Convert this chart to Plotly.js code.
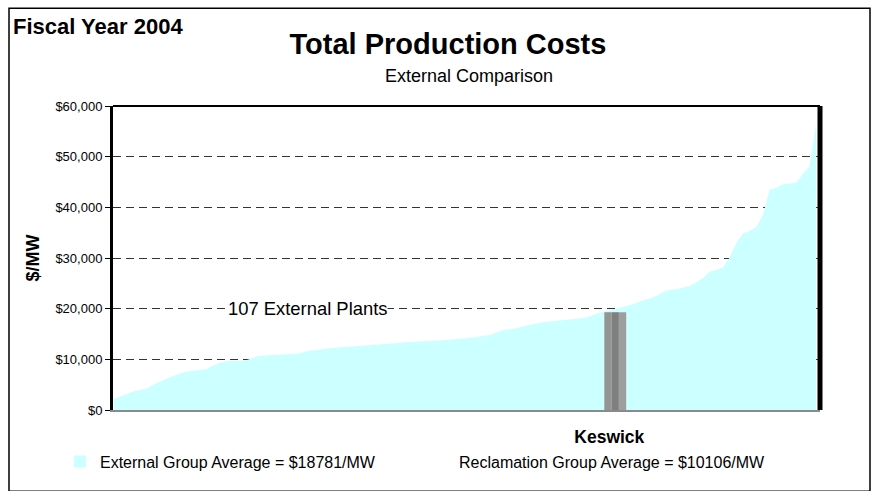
<!DOCTYPE html>
<html>
<head>
<meta charset="utf-8">
<script src="https://cdn.plot.ly/plotly-3.0.1.min.js"></script>
<style>
  html, body { margin: 0; padding: 0; background: #fff; }
  #chart { width: 873px; height: 491px; }
</style>
</head>
<body>
<div id="chart"></div>
<script>
// External plants, sorted production cost ($/MW), FY2004
const externalCosts = [
  2100, 2700, 3160, 3630, 3960, 4240, 5020, 5620, 6100, 6710,
  7200, 7560, 7750, 7910, 8060, 8730, 9340, 9610, 9680, 9750,
  9820, 10280, 10690, 10740, 10800, 10850, 10910, 10960, 11150, 11540,
  11750, 11970, 12100, 12230, 12330, 12420, 12480, 12510, 12610, 12770,
  12880, 12990, 13100, 13230, 13350, 13460, 13510, 13570, 13630, 13700,
  13760, 13840, 13930, 14100, 14270, 14440, 14640, 14870, 15400, 15850,
  15950, 16270, 16590, 16880, 17130, 17380, 17500, 17620, 17730, 17840,
  18000, 18160, 18540, 19100, 19400, 19700, 20000, 20300, 20700, 21150,
  21670, 22020, 22560, 23340, 23680, 23810, 24120, 24530, 25220, 26090,
  27320, 27650, 28180, 30200, 33000, 34900, 35320, 36100, 38500, 43460,
  43800, 44560, 44720, 44860, 46520, 48000, 56300
];
const plantRank = externalCosts.map((_, i) => i);

const reclamationPlant = 'Keswick';
const reclamationCost = 19300;

const legendExternal = 'External Group Average = $18781/MW';
const legendReclamation = 'Reclamation Group Average = $10106/MW';

const FONT = 'Liberation Sans, Arial, sans-serif';

// layout constants
const xRange = [-0.1, 106.6];
const yRange = [0, 60000];
const keswickPos = 75.7;
const stripeW = 1.1;

const traces = [
  {
    type: 'scatter',
    x: plantRank,
    y: externalCosts,
    mode: 'lines',
    line: { width: 0, color: '#CCFFFF' },
    fill: 'tozeroy',
    fillcolor: '#CCFFFF',
    showlegend: false,
    hoverinfo: 'y'
  },
  {
    type: 'bar',
    xaxis: 'x2',
    yaxis: 'y2',
    x: [keswickPos - stripeW, keswickPos, keswickPos + stripeW],
    y: [reclamationCost, reclamationCost, reclamationCost],
    width: stripeW,
    marker: { color: ['#949494', '#7f7f7f', '#9e9e9e'], line: { width: 0 } },
    showlegend: false,
    name: reclamationPlant
  },
  {
    type: 'bar',
    x: [null],
    y: [null],
    name: legendExternal,
    marker: { color: '#CCFFFF' },
    showlegend: true
  },
  {
    type: 'scatter',
    x: [null],
    y: [null],
    mode: 'none',
    name: legendReclamation,
    showlegend: true
  }
];

const layout = {
  width: 873,
  height: 491,
  margin: { l: 113, r: 53, t: 106, b: 74 },
  paper_bgcolor: '#ffffff',
  plot_bgcolor: '#ffffff',
  font: { family: FONT, color: '#000', size: 12 },
  barmode: 'overlay',
  title: {
    text: '<b>Total Production Costs</b>',
    font: { family: FONT, size: 29, color: '#000' },
    x: 448 / 873, xref: 'container', xanchor: 'center',
    y: 1 - 44 / 491, yref: 'container', yanchor: 'middle'
  },
  xaxis: {
    range: xRange,
    showgrid: false,
    zeroline: false,
    showline: true,
    linecolor: '#8a8a8a',
    linewidth: 2,
    ticks: '',
    tickvals: [keswickPos - 0.9],
    ticktext: ['<b>' + reclamationPlant + '</b>'],
    tickfont: { family: FONT, size: 17.5, color: '#000' },
    ticklabelstandoff: 10,
    fixedrange: true
  },
  xaxis2: {
    overlaying: 'x',
    range: xRange,
    visible: false,
    fixedrange: true
  },
  yaxis: {
    range: yRange,
    tickmode: 'linear',
    tick0: 0,
    dtick: 10000,
    tickprefix: '$',
    tickformat: ',d',
    tickfont: { family: FONT, size: 13, color: '#000' },
    ticks: 'outside',
    ticklen: 5,
    tickcolor: '#000',
    showgrid: true,
    gridcolor: '#333333',
    gridwidth: 1,
    griddash: '8px,5px',
    zeroline: false,
    showline: true,
    linecolor: '#000',
    linewidth: 3,
    title: {
      text: '<b>$/MW</b>',
      font: { family: FONT, size: 18, color: '#000' },
      standoff: 12
    },
    fixedrange: true
  },
  yaxis2: {
    overlaying: 'y',
    range: yRange,
    visible: false,
    fixedrange: true
  },
  legend: {
    orientation: 'h',
    x: -0.075, xanchor: 'left',
    y: -0.17, yanchor: 'middle',
    font: { family: FONT, size: 16, color: '#000' },
    bgcolor: 'rgba(0,0,0,0)',
    entrywidth: 314,
    traceorder: 'normal'
  },
  annotations: [
    {
      text: 'External Comparison',
      xref: 'paper', yref: 'paper',
      x: 0.503, y: (417 - 75) / 311,
      xanchor: 'center', yanchor: 'middle',
      showarrow: false,
      font: { family: FONT, size: 18, color: '#000' }
    },
    {
      text: '<b>Fiscal Year 2004</b>',
      xref: 'paper', yref: 'paper',
      x: (11 - 113) / 707, y: (417 - 25) / 311,
      xanchor: 'left', yanchor: 'middle',
      showarrow: false,
      font: { family: FONT, size: 22, color: '#000' }
    },
    {
      text: '107 External Plants',
      xref: 'x', yref: 'y',
      x: 29.3, y: 20000,
      xanchor: 'center', yanchor: 'middle',
      showarrow: false,
      bgcolor: '#ffffff',
      borderpad: 0,
      font: { family: FONT, size: 18.4, color: '#000' }
    }
  ],
  shapes: [
    { type: 'line', xref: 'paper', yref: 'paper', x0: 0, x1: 1, y0: 1, y1: 1,
      line: { color: '#000', width: 2 } },
    { type: 'line', xref: 'paper', yref: 'paper', x0: 1, x1: 1, y0: 0, y1: 1,
      line: { color: '#000', width: 5 } },
    { type: 'rect', xref: 'paper', yref: 'paper',
      x0: (9 - 113) / 707, x1: (870 - 113) / 707,
      y0: (417 - 500) / 311, y1: (417 - 6) / 311,
      line: { color: '#000', width: 1.5 }, fillcolor: 'rgba(0,0,0,0)', layer: 'below' }
  ]
};

Plotly.newPlot('chart', traces, layout, { displayModeBar: false, staticPlot: true });
</script>
</body>
</html>
